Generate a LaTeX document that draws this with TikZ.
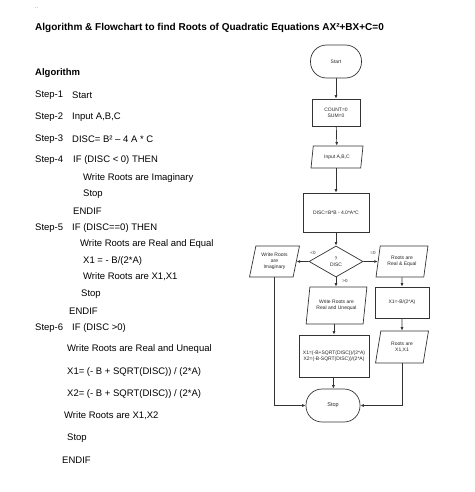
\documentclass[tikz,border=0pt]{standalone}
\usepackage{fontspec}
\setmainfont{Liberation Sans}
\usetikzlibrary{shapes.geometric,arrows.meta}
\begin{document}
\begin{tikzpicture}[x=1pt,y=-1pt,
  alg/.style={anchor=west, font=\fontsize{9.5}{11}\selectfont, inner sep=0pt, text=black},
  fc/.style={font=\fontsize{5}{6}\selectfont, align=center, draw=black!80, line width=0.7pt, inner sep=0pt, text=black!85},
  boxr/.style={fc, rectangle},
  term/.style={fc, rectangle, rounded corners=16pt},
  para/.style={fc, trapezium, trapezium left angle=75, trapezium right angle=105, trapezium stretches=true},
  dia/.style={fc, diamond},
  conn/.style={draw=black!80, line width=0.7pt, -{Latex[length=3.5pt,width=3pt]}},
  lab/.style={font=\fontsize{4.5}{5}\selectfont, inner sep=0pt, text=black!85}
]
\useasboundingbox (0,0) rectangle (474,492);
\fill[white] (0,0) rectangle (474,492);

% title
\node[anchor=west, inner sep=0pt, font=\fontsize{5}{6}\selectfont, text=black!70] (dots) at (35,8) {..};
\node[anchor=west, inner sep=0pt, font=\bfseries\fontsize{10}{12}\selectfont] (title) at (35,28) {Algorithm \& Flowchart to find Roots of Quadratic Equations AX²+BX+C=0};

% algorithm
\node[alg, font=\bfseries\fontsize{9.5}{11}\selectfont] (algo) at (35,73) {Algorithm};
\node[alg] (s1) at (35,95) {Step-1};
\node[alg] (s1t) at (72,95) {Start};
\node[alg] (s2) at (35,117) {Step-2};
\node[alg] (s2t) at (72,117) {Input A,B,C};
\node[alg] (s3) at (35,139) {Step-3};
\node[alg] (s3t) at (72,139) {DISC= B² – 4 A * C};
\node[alg] (s4) at (35,160) {Step-4};
\node[alg] (s4t) at (73,160) {IF (DISC < 0) THEN};
\node[alg] (s4a) at (83,178) {Write Roots are Imaginary};
\node[alg] (s4b) at (83,194) {Stop};
\node[alg] (s4c) at (73,211) {ENDIF};
\node[alg] (s5) at (35,228) {Step-5};
\node[alg] (s5t) at (72,228) {IF (DISC==0) THEN};
\node[alg] (s5a) at (80,244) {Write Roots are Real and Equal};
\node[alg] (s5b) at (83,261) {X1 = - B/(2*A)};
\node[alg] (s5c) at (83,277) {Write Roots are X1,X1};
\node[alg] (s5d) at (81,294) {Stop};
\node[alg] (s5e) at (69,311) {ENDIF};
\node[alg] (s6) at (35,328) {Step-6};
\node[alg] (s6t) at (72,328) {IF (DISC >0)};
\node[alg] (s6a) at (67,349) {Write Roots are Real and Unequal};
\node[alg] (s6b) at (67,372) {X1= (- B + SQRT(DISC)) / (2*A)};
\node[alg] (s6c) at (67,394) {X2= (- B + SQRT(DISC)) / (2*A)};
\node[alg] (s6d) at (64,416) {Write Roots are X1,X2};
\node[alg] (s6e) at (67,438) {Stop};
\node[alg] (s6f) at (62,460) {ENDIF};

% flowchart
\node[term, minimum width=51, minimum height=33] (start) at (336,61.5) {Start};
\node[boxr, minimum width=48, minimum height=27] (count) at (336,112.5) {COUNT=0\\SUM=0};
\node[para, minimum width=52, minimum height=22] (input) at (337,157) {Input A,B,C};
\node[boxr, minimum width=66, minimum height=39] (disc) at (336,212.5) {DISC=B*B - 4.0*A*C};
\node[dia, minimum width=54, minimum height=31] (dec) at (336,261.5) {?\\DISC};
\node[para, minimum width=50, minimum height=31] (imag) at (274.5,261.5) {Write Roots\\are\\Imaginary};
\node[para, minimum width=52, minimum height=31] (req) at (402,261.5) {Roots are\\Real \& Equal};
\node[para, minimum width=61, minimum height=37] (uneq) at (336.5,305.5) {Write Roots are\\Real and Unequal};
\node[boxr, minimum width=54, minimum height=31] (x1) at (402,302.5) {X1=-B/(2*A)};
\node[para, minimum width=53, minimum height=32] (rx1) at (402,347) {Roots are\\X1,X1};
\node[boxr, minimum width=70, minimum height=42] (x12) at (334,356) {X1=(-B+SQRT(DISC))/(2*A)\\X2=(-B-SQRT(DISC))/(2*A)};
\node[term, minimum width=54, minimum height=33, font=\fontsize{5.5}{6}\selectfont] (stop) at (333,405.5) {Stop};

\node[lab] (l1) at (313,253) {<0};
\node[lab] (l2) at (373,253) {=0};
\node[lab] (l3) at (345,281) {>0};

\draw[conn] (start) -- (count);
\draw[conn] (count) -- (input);
\draw[conn] (input.south -| disc.north) -- (disc);
\draw[conn] (disc) -- (dec);
\draw[conn] (dec.west) -- (imag.east);
\draw[conn] (dec.east) -- (req.west);
\draw[conn] (dec.south) -- (uneq.north -| dec.south);
\draw[conn] (req) -- (x1);
\draw[conn] (x1) -- (rx1);
\draw[conn] (uneq.south -| x12.north) -- (x12);
\draw[conn] (x12) -- (stop);
\draw[conn] (imag.south) |- (stop.west);
\draw[conn] (rx1.south) |- (stop.east);
\end{tikzpicture}
\end{document}
